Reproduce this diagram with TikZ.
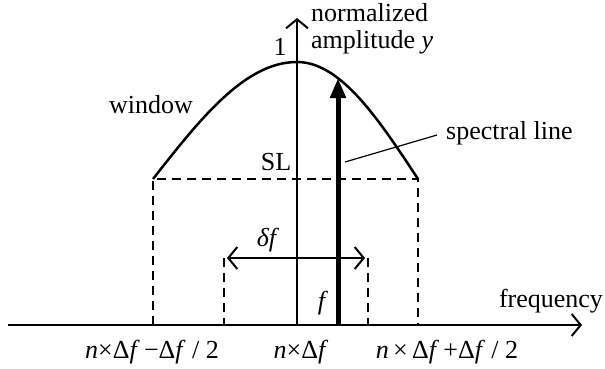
\documentclass[tikz,border=0pt]{standalone}
\usepackage{fontspec}
\setmainfont{Liberation Serif}
\usetikzlibrary{arrows.meta}

\tikzset{
  axisline/.style={line width=2pt, -{Straight Barb[length=9pt,width=22pt,line width=2pt]}},
  guide/.style={line width=2.2pt, dash pattern=on 9pt off 6pt},
  lbl/.style={font=\fontsize{26}{27}\selectfont, inner sep=0pt},
}

\begin{document}
\begin{tikzpicture}[x=1pt, y=-1pt]
    \useasboundingbox (0,0) rectangle (605,368);
    % points of the window
    \coordinate (winl) at (153,179);
    \coordinate (winr) at (418,179);
    \coordinate (wfootl) at (153,325);
    \coordinate (wfootr) at (418,325);
    \coordinate (bintl) at (224,258);
    \coordinate (bintr) at (368,258);
    \coordinate (binbl) at (224,325);
    \coordinate (binbr) at (368,325);
    \coordinate (xstart) at (8,325);
    \coordinate (xend) at (582,325);
    \coordinate (orig) at (297,325);
    \coordinate (yend) at (297,18);
    \coordinate (slfoot) at (338,325);
    \coordinate (sltip) at (338,78);
    \coordinate (leadA) at (345,162);
    \coordinate (leadB) at (437,135);

    % axes
    \draw[axisline] (xstart) -- (xend);
    \draw[axisline] (orig) -- (yend);

    % window
    \draw[line width=2.5pt, line join=round]
      plot[domain=153:297, samples=60] (\x, {179 - 117*cos(90*(\x-297)/144)})
      -- plot[domain=297:418, samples=60] (\x, {179 - 117*cos(90*(\x-297)/121)});
    \draw[guide] (wfootl) -- (winl) -- (winr) -- (wfootr);
    \draw[guide] (bintl) -- (binbl);
    \draw[guide] (bintr) -- (binbr);
    \draw[line width=2pt, {Straight Barb[length=9pt,width=22pt,line width=2pt]}-{Straight Barb[length=9pt,width=22pt,line width=2pt]}, shorten <=3pt, shorten >=3pt] (bintl) -- (bintr);

    % spectral line
    \draw[line width=5pt, -{Triangle[length=20pt,width=15pt]}] (slfoot) -- (sltip);
    \draw[line width=1.2pt] (leadA) -- (leadB);

    % labels
    \node[lbl, anchor=west, align=left] (ylabel) at (311,29) {normalized\\amplitude \textit{y}};
    \node[lbl] (one) at (280,47) {1};
    \node[lbl] (window) at (151,105) {window};
    \node[lbl] (sl) at (276,162) {SL};
    \node[lbl, anchor=west] (spline) at (446,133) {spectral line};
    \node[lbl] (deltaf) at (268,240) {\textit{δf}};
    \node[lbl] (flabel) at (323,303) {\textit{f}};
    \node[lbl] (freq) at (551,301) {frequency};
    \node[lbl] (lowlab) at (152,352) {\textit{n}×Δ\textit{f}\,−Δ\textit{f} / 2};
    \node[lbl] (midlab) at (301,352) {\textit{n}×Δ\textit{f}};
    \node[lbl] (uplab) at (447,352) {\textit{n}\,×\,Δ\textit{f}\,+Δ\textit{f} / 2};
\end{tikzpicture}
\end{document}
